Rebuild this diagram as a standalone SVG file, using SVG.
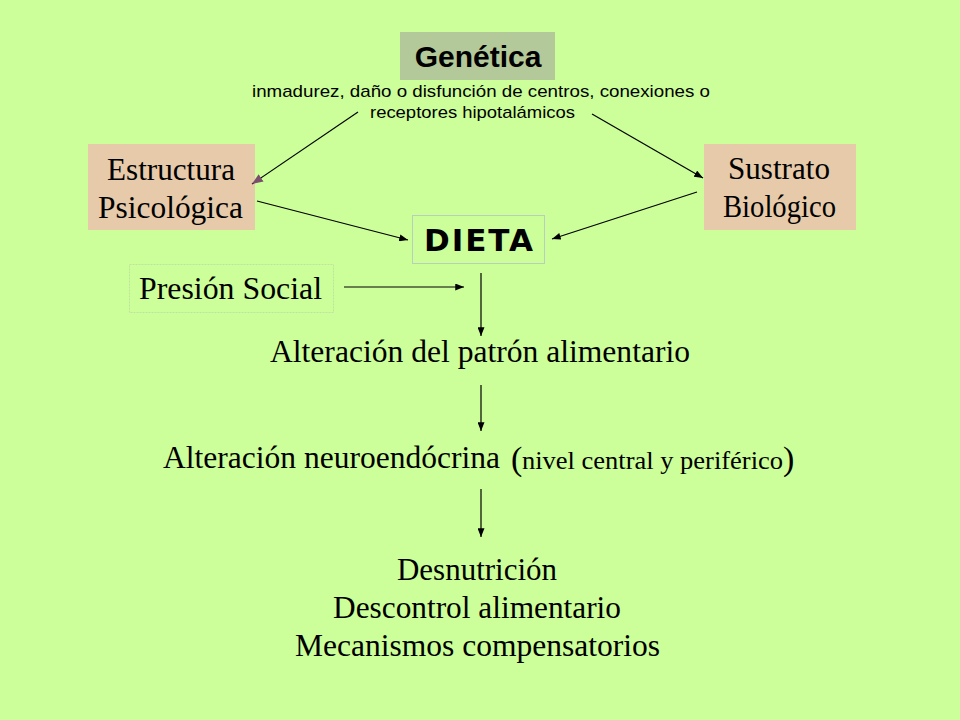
<svg xmlns="http://www.w3.org/2000/svg" width="960" height="720" viewBox="0 0 960 720">
<defs>
<style>
.serif{font-family:"Liberation Serif","Times New Roman",serif;fill:#000}
.sans{font-family:"Liberation Sans",Arial,sans-serif;fill:#000}
.conn line{stroke:#000;stroke-width:1.2;fill:none}
</style>
<marker id="ah" viewBox="0 0 10 8" refX="10" refY="4" markerWidth="9" markerHeight="7" markerUnits="userSpaceOnUse" orient="auto">
<path d="M0,0 L10,4 L0,8 Z" fill="#000"/>
</marker>
<marker id="ahm" viewBox="0 0 10 8" refX="10" refY="4" markerWidth="11" markerHeight="9" markerUnits="userSpaceOnUse" orient="auto">
<path d="M0,0 L10,4 L0,8 Z" fill="#7B4E6E"/>
</marker>
</defs>
<rect x="0" y="0" width="960" height="720" fill="#CCFF99"/>

<g id="genetica">
<rect x="400" y="32" width="155" height="48" fill="#B3C999"/>
<text class="sans" x="478" y="67" font-size="30" font-weight="bold" text-anchor="middle">Genética</text>
<text class="sans" x="252" y="97" font-size="17" textLength="458" lengthAdjust="spacingAndGlyphs">inmadurez, daño o disfunción de centros, conexiones o</text>
<text class="sans" x="370" y="118" font-size="17" textLength="205" lengthAdjust="spacingAndGlyphs">receptores hipotalámicos</text>
</g>

<g id="estructura">
<rect x="88" y="144" width="167" height="86" fill="#E6CAAA"/>
<text class="serif" x="107" y="180" font-size="31" textLength="128" lengthAdjust="spacingAndGlyphs">Estructura</text>
<text class="serif" x="98" y="218" font-size="31" textLength="145" lengthAdjust="spacingAndGlyphs">Psicológica</text>
</g>

<g id="sustrato">
<rect x="704" y="144" width="152" height="86" fill="#E6CAAA"/>
<text class="serif" x="728" y="179" font-size="31" textLength="102" lengthAdjust="spacingAndGlyphs">Sustrato</text>
<text class="serif" x="723" y="217" font-size="31" textLength="113" lengthAdjust="spacingAndGlyphs">Biológico</text>
</g>

<g id="dieta">
<rect x="412.5" y="215.5" width="132" height="48" fill="none" stroke="#B8CFC0" stroke-width="1"/>
<text x="424" y="251" font-family="'DejaVu Sans',Verdana,sans-serif" font-weight="bold" font-size="31" textLength="109" lengthAdjust="spacing" fill="#000">DIETA</text>
</g>

<g id="presion">
<rect x="129.5" y="264.5" width="204" height="48" fill="none" stroke="#BEE3A0" stroke-width="1" stroke-dasharray="2,1"/>
<text class="serif" x="139" y="299" font-size="31" textLength="183" lengthAdjust="spacingAndGlyphs">Presión Social</text>
</g>

<g id="alteracion-patron">
<text class="serif" x="270" y="362" font-size="31" textLength="420" lengthAdjust="spacingAndGlyphs">Alteración del patrón alimentario</text>
</g>

<g id="alteracion-neuro">
<text class="serif" x="163" y="468" font-size="31" textLength="337" lengthAdjust="spacingAndGlyphs">Alteración neuroendócrina</text>
<text class="serif" x="511" y="470" font-size="34">(</text>
<text class="serif" x="522" y="469" font-size="25" textLength="261" lengthAdjust="spacingAndGlyphs">nivel central y periférico</text>
<text class="serif" x="783" y="470" font-size="34">)</text>
</g>

<g id="resultados">
<text class="serif" x="397" y="580" font-size="31" textLength="160" lengthAdjust="spacingAndGlyphs">Desnutrición</text>
<text class="serif" x="333" y="618" font-size="31" textLength="288" lengthAdjust="spacingAndGlyphs">Descontrol alimentario</text>
<text class="serif" x="295" y="656" font-size="31" textLength="365" lengthAdjust="spacingAndGlyphs">Mecanismos compensatorios</text>
</g>

<g id="connectors" class="conn">
<line x1="358" y1="112" x2="252" y2="184" marker-end="url(#ahm)"/>
<line x1="592" y1="114" x2="703" y2="178" marker-end="url(#ah)"/>
<line x1="257" y1="201" x2="408" y2="240" marker-end="url(#ah)"/>
<line x1="697" y1="192" x2="552" y2="239" marker-end="url(#ah)"/>
<line x1="344" y1="287" x2="464" y2="287" marker-end="url(#ah)"/>
<line x1="481" y1="273" x2="481" y2="336" marker-end="url(#ah)"/>
<line x1="481" y1="385" x2="481" y2="431" marker-end="url(#ah)"/>
<line x1="481" y1="489" x2="481" y2="537" marker-end="url(#ah)"/>
</g>
</svg>
